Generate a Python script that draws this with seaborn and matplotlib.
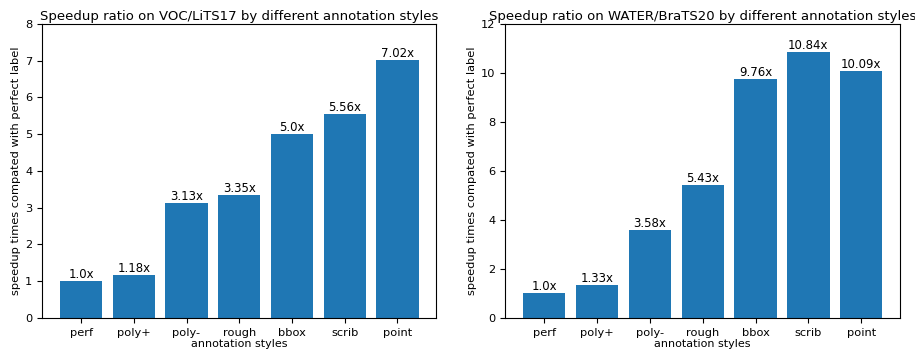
import matplotlib
matplotlib.use("Agg")
import matplotlib.pyplot as plt
import seaborn as sns
import pandas as pd

styles = ["perf", "poly+", "poly-", "rough", "bbox", "scrib", "point"]
voc_lits_speedup = [1.0, 1.18, 3.13, 3.35, 5.0, 5.56, 7.02]
water_brats_speedup = [1.0, 1.33, 3.58, 5.43, 9.76, 10.84, 10.09]

panels = [
    ("Speedup ratio on VOC/LiTS17 by different annotation styles", voc_lits_speedup, 8),
    ("Speedup ratio on WATER/BraTS20 by different annotation styles", water_brats_speedup, 12),
]

fig = plt.figure(figsize=(9.15, 3.52), dpi=100)
ax_boxes = [
    [0.046, 0.097, 0.431, 0.835],
    [0.552, 0.097, 0.432, 0.835],
]

for box, (title, values, ymax) in zip(ax_boxes, panels):
    ax = fig.add_axes(box)
    df = pd.DataFrame({"style": styles, "speedup": values})
    sns.barplot(data=df, x="style", y="speedup", color="#1f77b4",
                saturation=1, width=0.8, ax=ax)
    ax.set_xlim(-0.74, 6.74)
    ax.set_ylim(0, ymax)
    for container in ax.containers:
        ax.bar_label(container, labels=[f"{v}x" for v in values], fontsize=8.5)
    ax.set_title(title, fontsize=9.5, pad=3)
    ax.set_xlabel("annotation styles", fontsize=8, labelpad=1)
    ax.set_ylabel("speedup times compated with perfect label", fontsize=8.2, labelpad=3)
    ax.tick_params(labelsize=8.2)

fig.savefig("out.png", dpi=100)
